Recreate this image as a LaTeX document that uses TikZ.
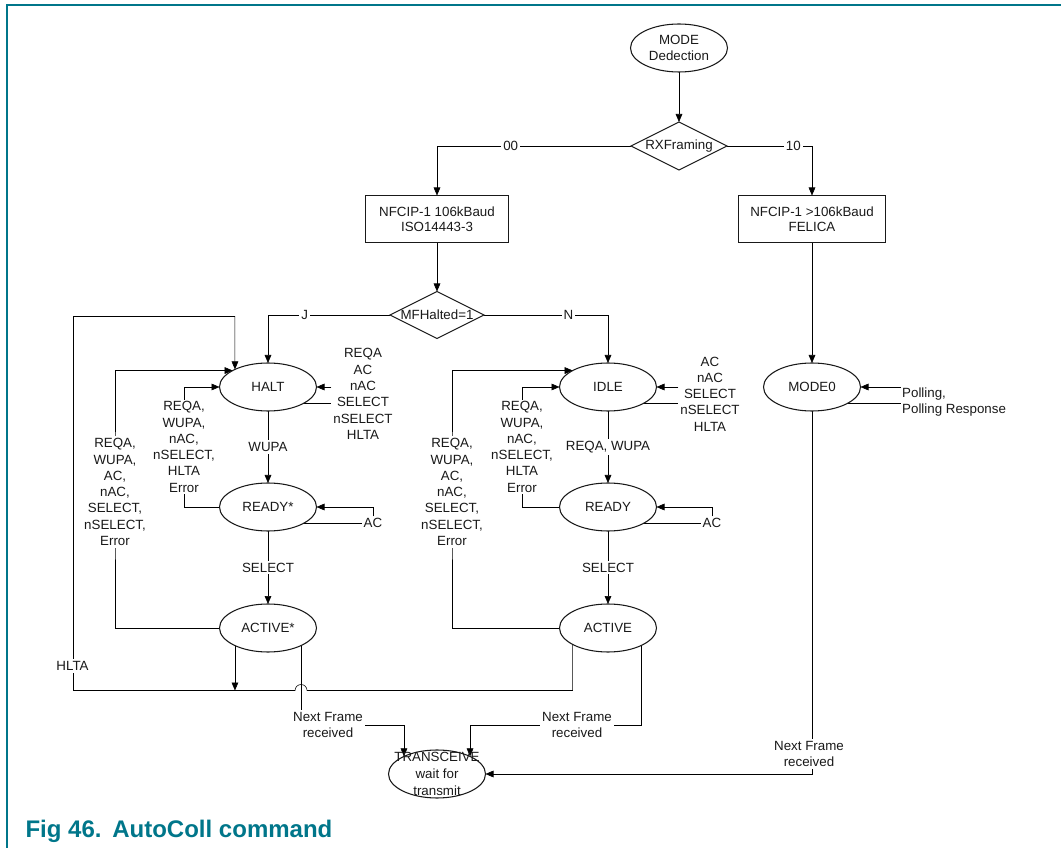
\documentclass[tikz,border=0pt]{standalone}
\usepackage{fontspec}
\setmainfont{Liberation Sans}
\usetikzlibrary{shapes.geometric,arrows.meta,calc,backgrounds}
\definecolor{nxpteal}{RGB}{0,118,138}
\newcommand\dgfont{\fontsize{10}{12.2}\selectfont}
\newcommand\capfont{\fontsize{18}{20}\selectfont\bfseries}
\begin{document}
\begin{tikzpicture}[x=0.75pt,y=-0.75pt, line width=0.8pt, color=black!90, font=\dgfont,
  st/.style={ellipse,draw,minimum width=72.75pt,minimum height=36pt,inner sep=0pt,outer sep=0pt,align=center},
  bx/.style={rectangle,draw,minimum width=107.25pt,minimum height=35.25pt,inner sep=0pt,outer sep=0pt,align=center,font=\fontsize{10}{11.5}\selectfont},
  dia/.style={diamond,draw,minimum width=72pt,minimum height=36pt,inner sep=0pt,outer sep=0pt},
  lbl/.style={fill=white,inner sep=1.5pt,align=center},
  txt/.style={inner sep=1pt,align=center},
  arr/.style={-{Triangle[length=6pt,width=5pt]}}]
\useasboundingbox (0,0) rectangle (1061,848);
\draw[nxpteal, line width=1.1pt] (7,848) -- (7,5) -- (1061,5);

% main nodes
\node[st] (mode) at (679,48) {MODE\\Dedection};
\node[dia] (rx) at (679,146) {};
\node[txt] (rxt) at (rx) {RXFraming};
\node[bx] (nf1) at (437,219) {NFCIP-1 106kBaud\\ISO14443-3};
\node[bx, minimum width=110.25pt] (nf2) at (812,219) {NFCIP-1 >106kBaud\\FELICA};
\node[dia, minimum width=70.5pt, minimum height=35.25pt] (mf) at (437,315) {};
\node[txt] (mft) at (mf) {MFHalted=1};

\node[st] (halt) at (268,387) {HALT};
\node[st] (readyS) at (268,507) {READY*};
\node[st] (activeS) at (268,628) {ACTIVE*};
\node[st] (idle) at (608,387) {IDLE};
\node[st] (ready) at (608,507) {READY};
\node[st] (active) at (608,628) {ACTIVE};
\node[st] (mode0) at (812,387) {MODE0};
\node[st] (trans) at (437,774) {};
\node[txt, font=\fontsize{10}{12.8}\selectfont] (transt) at (trans) {TRANSCEIVE\\wait for\\transmit};

% loop labels
\node[txt] (hl) at (363,394) {REQA\\AC\\nAC\\SELECT\\nSELECT\\HLTA};
\node[txt] (il) at (710,394) {AC\\nAC\\SELECT\\nSELECT\\HLTA};
\node[txt] (ac1) at (373,523) {AC};
\node[txt] (ac2) at (712,523) {AC};
\node[txt, anchor=west, align=left, inner sep=0.5pt] (pl) at (901,402) {Polling,\\Polling Response};
\node[lbl] (hi) at (184,447) {REQA,\\WUPA,\\nAC,\\nSELECT,\\HLTA\\Error};
\node[lbl] (ho) at (115,492) {REQA,\\WUPA,\\AC,\\nAC,\\SELECT,\\nSELECT,\\Error};
\node[lbl] (ii) at (522,447) {REQA,\\WUPA,\\nAC,\\nSELECT,\\HLTA\\Error};
\node[lbl] (io) at (452,492) {REQA,\\WUPA,\\AC,\\nAC,\\SELECT,\\nSELECT,\\Error};
\node[lbl] (hltal) at (72.5,666) {HLTA};
\node[lbl] (nfa) at (328,725) {Next Frame\\received};
\node[lbl] (nfb) at (577,725) {Next Frame\\received};
\node[lbl] (nfc) at (809,754) {Next Frame\\received};

\coordinate (jl) at (73.5,690.5);
\coordinate (jt) at (73.5,316.5);

\begin{scope}[on background layer]
\draw[arr] (mode) -- (rx);
\draw[arr] (rx.west) -| node[lbl, pos=0.31] (l00) {00} (nf1.north);
\draw[arr] (rx.east) -| node[lbl, pos=0.39] (l10) {10} (nf2.north);
\draw[arr] (nf1) -- (mf);
\draw[arr] (nf2) -- (mode0);
\draw[arr] (mf.west) -| node[lbl, pos=0.35] (lj) {J} (halt.north);
\draw[arr] (mf.east) -| node[lbl, pos=0.34] (ln) {N} (idle.north);

\draw[arr] (halt) -- node[lbl] (lw1) {WUPA} (readyS);
\draw[arr] (readyS) -- node[lbl] (ls1) {SELECT} (activeS);
\draw[arr] (idle) -- node[lbl] (lw2) {REQA, WUPA} (ready);
\draw[arr] (ready) -- node[lbl] (ls2) {SELECT} (active);

% right self loops
\draw[arr] (hl.west |- halt.east) -- (halt.east);
\draw (halt.-25) -- (halt.-25 -| hl.west);
\draw[arr] (il.west |- idle.east) -- (idle.east);
\draw (idle.-25) -- (idle.-25 -| il.west);
\draw[arr] (ac1.north) |- (readyS.east);
\draw (readyS.-25) -- (readyS.-25 -| ac1.west);
\draw[arr] (ac2.north) |- (ready.east);
\draw (ready.-25) -- (ready.-25 -| ac2.west);
\draw[arr] (pl.west |- mode0.east) -- (mode0.east);
\draw (mode0.-25) -- (mode0.-25 -| pl.west);

% left loops
\draw[arr] (readyS.west) -| (hi.center) |- (halt.west);
\draw[arr] (activeS.west) -| (ho.center) |- (halt.155);
\draw[arr] (ready.west) -| (ii.center) |- (idle.west);
\draw[arr] (active.west) -| (io.center) |- (idle.155);

% HLTA return
\draw[arr] (active.205) |- ($(activeS.-28 |- jl)+(6,0)$)
  arc[start angle=0, end angle=-180, radius=6] -- (jl) -- (jt) -| (halt.152);
\draw[arr] (activeS.208) -- (activeS.208 |- jl);

% next frame
\draw[arr] (activeS.-28) |- (nfa.center -| trans.152) -- (trans.152);
\draw[arr] (active.-28) |- (nfb.center -| trans.28) -- (trans.28);
\draw[arr] (mode0.south) |- (trans.east);
\end{scope}

\node[anchor=base west, inner sep=0pt, font=\capfont, text=nxpteal] (cap) at (25,837) {Fig 46.\hspace{0.45em}AutoColl command};
\end{tikzpicture}
\end{document}
